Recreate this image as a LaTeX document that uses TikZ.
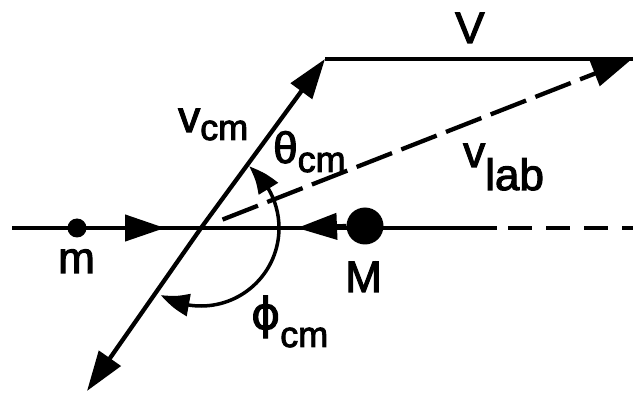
\documentclass[tikz,border=0pt]{standalone}
\usepackage{fontspec}
\setmainfont{Liberation Sans}
\newfontfamily\medfont{Liberation Sans}[RawFeature={embolden=2.5}]
\newfontfamily\greekfont{DejaVu Sans}[RawFeature={embolden=2.5}]
\usetikzlibrary{arrows.meta,calc,bending}
\newcommand\lowsub[3]{\raisebox{-#1}{\fontsize{#2}{#2}\selectfont #3}}
\begin{document}
\begin{tikzpicture}[x=1pt,y=-1pt,
  vec/.style={line width=4.3pt},
  tip/.style={-{Triangle[length=40pt,width=26pt]}},
  arctip/.style={-{Triangle[length=30pt,width=22pt,bend]}},
  lbl/.style={font=\fontsize{44}{44}\medfont, inner sep=0pt, anchor=base west},
  dot/.style={circle, fill=black, inner sep=0pt}]
\fill[white] (0,0) rectangle (633,393);
\useasboundingbox (0,0) rectangle (633,393);
% key points
\coordinate (C) at (201,228);
\coordinate (T) at (325,59);
\coordinate (B) at (87,391);
\coordinate (R) at (632,59);
\coordinate (Vend) at (633,59);
\coordinate (L0) at (12,228);
\coordinate (Ls) at (497,228);
\coordinate (Ld) at (508,228);
\coordinate (Le) at (633,228);
\coordinate (mtip) at (165,228);
\coordinate (Mtip) at (297,228);
% masses
\node[dot, minimum size=19pt] (m) at (77,228) {};
\node[dot, minimum size=37pt] (M) at (365,226) {};
% beam line
\draw[vec] (L0) -- (Ls);
\draw[vec, dash pattern=on 24pt off 14pt] (Ld) -- (Le);
\draw[vec, tip] (m.east) -- (mtip);
\draw[vec, tip] (M.west) -- (Mtip);
% velocity vectors
\draw[vec, tip] (C) -- (T);
\draw[vec, tip] (C) -- (B);
\draw[vec] (T) -- (Vend);
\draw[vec, dash pattern=on 38pt off 10pt, tip] ($(C)!0.05!(R)$) -- (R);
% angle arcs
\draw[line width=3.5pt, arctip] (C) ++(78,0) arc[start angle=0, end angle=-52, radius=78];
\draw[line width=3.5pt, arctip] (C) ++(78,0) arc[start angle=0, end angle=121, radius=78];
% labels
\node[lbl] (Vl) at (455,43) {V};
\node[lbl] (vcm) at (178,132) {v\lowsub{8pt}{36}{cm}};
\node[lbl] (thcm) at (273,163) {θ\lowsub{9pt}{36}{cm}};
\node[lbl] (vlab) at (463,167) {v\lowsub{23pt}{44}{lab}};
\node[lbl] (ml) at (58,273) {m};
\node[lbl] (Ml) at (345,292) {M};
\node[lbl] (phcm) at (251,329) {{\greekfont ϕ}\lowsub{18pt}{36}{cm}};
\end{tikzpicture}
\end{document}
